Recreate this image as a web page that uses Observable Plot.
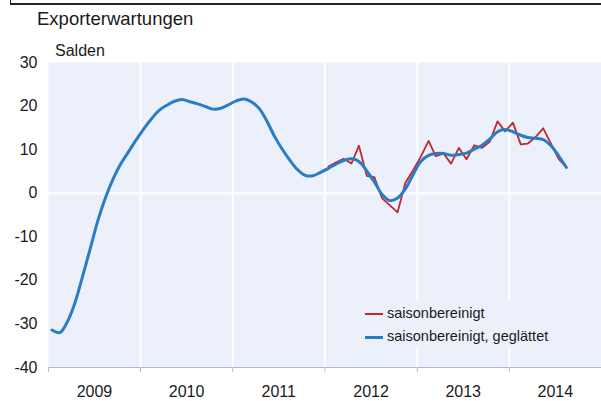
<!DOCTYPE html>
<html><head><meta charset="utf-8">
<script src="https://cdn.jsdelivr.net/npm/d3@7"></script>
<script src="https://cdn.jsdelivr.net/npm/@observablehq/plot@0.6"></script>
<style>
body{margin:0;background:#fff;font-family:"Liberation Sans",Arial,sans-serif;color:#1a1a1a;}
#wrap{position:relative;width:601px;height:401px;overflow:hidden;}
#chart{position:absolute;left:0;top:0;}
#border{position:absolute;left:10px;top:0;width:591px;height:3px;border-left:1.5px solid #222;border-bottom:2px solid #222;}
.txt{position:absolute;line-height:1;white-space:nowrap;}
#title{left:37px;top:10px;font-size:18.5px;}
#unit{left:55px;top:42.5px;font-size:16px;}
#legend{position:absolute;left:360px;top:300px;width:200px;height:47px;background:#ecf0fa;}
.lg{position:absolute;left:5px;width:18px;}
.lt{position:absolute;left:27px;font-size:14.5px;line-height:1;white-space:nowrap;}
</style></head>
<body>
<div id="wrap">
<div id="chart"></div>
<div id="border"></div>
<div class="txt" id="title">Exporterwartungen</div>
<div class="txt" id="unit">Salden</div>
<div id="legend"></div>
</div>
<script>
const yearLabels = ["2009","2010","2011","2012","2013","2014"];
const yTicks = [-40,-30,-20,-10,0,10,20,30];
// saisonbereinigt, geglättet: monthly from Jan 2009
const smoothedStart = [2009, 0];
const smoothedValues = [
  -31.4,-32.0,-29.7,-25.3,-19.3,-12.8,-6.4,-1.0,3.4,6.8,9.6,12.3,
  14.9,17.2,19.0,20.2,21.1,21.5,21.0,20.5,19.9,19.3,19.5,20.3,
  21.2,21.6,21.0,19.5,16.7,13.1,10.2,7.6,5.4,4.1,4.0,4.8,
  5.7,6.7,7.5,7.9,7.3,5.1,2.6,-0.3,-1.7,-1.1,1.0,4.2,
  7.3,8.7,9.1,9.1,8.7,8.9,9.2,10.1,11.0,12.4,14.1,14.6,
  14.1,13.3,12.8,12.6,12.3,10.9,8.6,5.9
];
// saisonbereinigt: monthly from Jan 2012
const adjustedStart = [2012, 0];
const adjustedValues = [
  6.1,7.1,7.9,6.8,10.9,4.0,3.7,-1.2,-2.8,-4.4,2.4,5.2,
  8.4,12.0,8.5,9.1,6.8,10.4,7.8,11.0,10.4,11.8,16.5,14.2,
  16.2,11.2,11.4,12.9,14.9,11.4,7.9,5.9
];
const seriesNames = ["saisonbereinigt", "saisonbereinigt, geglättet"];
const colors = ["#c1272d", "#2a7dc5"];

const toRows = (start, vals) => vals.map((v, i) => ({date: new Date(Date.UTC(start[0], start[1] + i, 15)), value: v}));
const smoothed = toRows(smoothedStart, smoothedValues);
const adjusted = toRows(adjustedStart, adjustedValues);
const years = yearLabels.map(Number);
const yearStarts = years.map(y => new Date(Date.UTC(y, 0, 1)));
const midYears = years.map(y => new Date(Date.UTC(y, 6, 2)));
const axisColor = "#a9bcdc";

const chart = Plot.plot({
  width: 601, height: 401,
  marginTop: 62, marginBottom: 34, marginLeft: 48, marginRight: 0,
  style: {fontFamily: '"Liberation Sans", Arial, sans-serif', fontSize: "16px", color: "#1a1a1a", background: "transparent"},
  x: {type: "utc", domain: [new Date(Date.UTC(years[0], 0, 1)), new Date(Date.UTC(years[years.length-1] + 1, 0, 1))]},
  y: {domain: [yTicks[0], yTicks[yTicks.length-1]]},
  marks: [
    Plot.frame({fill: "#ecf0fa", stroke: "none"}),
    Plot.ruleX(yearStarts.slice(1), {stroke: "white", strokeWidth: 2}),
    Plot.ruleY([0], {stroke: "white", strokeWidth: 2}),
    Plot.ruleY([yTicks[0]], {stroke: axisColor, strokeWidth: 1.2}),
    Plot.axisX({ticks: yearStarts, tickSize: 5, tickFormat: () => "", stroke: axisColor, label: null}),
    Plot.axisX({ticks: midYears, tickSize: 0, tickPadding: 18, tickFormat: d => String(d.getUTCFullYear()), label: null, fontSize: 16}),
    Plot.axisY({ticks: yTicks, tickSize: 0, tickPadding: 11, tickFormat: d => String(d), label: null, fontSize: 16}),
    Plot.line(adjusted, {x: "date", y: "value", stroke: colors[0], strokeWidth: 1.8}),
    Plot.line(smoothed, {x: "date", y: "value", stroke: colors[1], strokeWidth: 3, curve: "catmull-rom"})
  ]
});
document.getElementById("chart").appendChild(chart);

const legend = document.getElementById("legend");
seriesNames.forEach((name, i) => {
  const line = document.createElement("div");
  line.className = "lg";
  line.style.background = colors[i];
  line.style.height = (i === 0 ? 2 : 3) + "px";
  line.style.top = (i === 0 ? 13 : 36) + "px";
  legend.appendChild(line);
  const t = document.createElement("div");
  t.className = "lt";
  t.textContent = name;
  t.style.top = (i === 0 ? 5.5 : 28.5) + "px";
  legend.appendChild(t);
});
</script>
</body></html>
